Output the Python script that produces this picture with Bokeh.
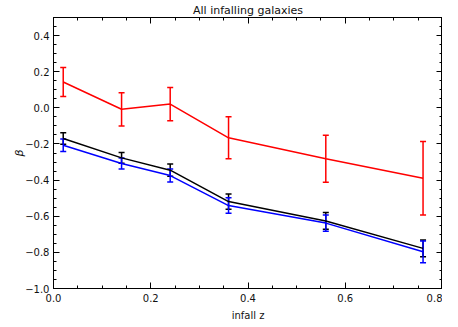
from bokeh.plotting import figure
from bokeh.models import (LinearAxis, Whisker, TeeHead, ColumnDataSource,
                          CustomJSTickFormatter, Range1d, FixedTicker,
                          CustomLabelingPolicy)
from bokeh.embed import file_html
from bokeh.resources import INLINE

# data
infall_z = [0.02, 0.14, 0.24, 0.36, 0.56, 0.76]
beta_red = [0.143, -0.008, 0.021, -0.166, -0.282, -0.390]
err_red = [0.080, 0.092, 0.092, 0.116, 0.130, 0.203]
beta_black = [-0.170, -0.277, -0.345, -0.519, -0.626, -0.778]
err_black = [0.032, 0.030, 0.034, 0.042, 0.046, 0.046]
beta_blue = [-0.207, -0.308, -0.375, -0.541, -0.638, -0.797]
err_blue = [0.035, 0.031, 0.036, 0.043, 0.045, 0.060]
x_ticks = [0.0, 0.2, 0.4, 0.6, 0.8]
x_minor = [0.05, 0.1, 0.15, 0.25, 0.3, 0.35, 0.45, 0.5, 0.55, 0.65, 0.7, 0.75]
y_ticks = [-1.0, -0.8, -0.6, -0.4, -0.2, 0.0, 0.2, 0.4]
y_minor = [-0.95, -0.9, -0.85, -0.75, -0.7, -0.65, -0.55, -0.5, -0.45,
           -0.35, -0.3, -0.25, -0.15, -0.1, -0.05, 0.05, 0.1, 0.15,
           0.25, 0.3, 0.35, 0.45, 0.5]
title_text = "All infalling galaxies"
x_label = "infall z"
y_label = "β"

FONT = "DejaVu Sans"

p = figure(width=442, height=323, output_backend="svg", toolbar_location=None,
           x_range=Range1d(0, 0.8), y_range=Range1d(-1.0, 0.5),
           x_axis_location=None, y_axis_location=None,
           min_border_left=53, min_border_right=0, min_border_top=0, min_border_bottom=0)
p.grid.visible = False
p.outline_line_color = "black"
p.background_fill_color = "white"
p.border_fill_color = "white"

p.title.text = title_text
p.title.align = "center"
p.title.text_font = FONT
p.title.text_font_size = "11px"
p.title.text_font_style = "normal"
p.title.text_color = "#111111"
p.title.standoff = 2
p.title.offset = 0

fmt = CustomJSTickFormatter(code="return tick.toFixed(1).replace('-', '\u2212');")
blank = CustomJSTickFormatter(code="return '';")
no_labels = CustomLabelingPolicy(code="return new Set();")

def make_axis(ticks, minor, labels):
    ax = LinearAxis(ticker=FixedTicker(ticks=ticks, minor_ticks=minor))
    ax.major_tick_in = 6
    ax.major_tick_out = 0
    ax.minor_tick_in = 3
    ax.minor_tick_out = 0
    ax.axis_line_color = "black"
    ax.major_tick_line_color = "black"
    ax.minor_tick_line_color = "black"
    ax.major_label_text_font = FONT
    ax.major_label_text_font_size = "10px"
    ax.major_label_text_color = "#111111"
    ax.major_label_standoff = 4
    ax.formatter = fmt
    if not labels:
        ax.formatter = blank
        ax.major_label_policy = no_labels
        ax.major_label_standoff = 0
    return ax

xb = make_axis(x_ticks, x_minor, True)
xt = make_axis(x_ticks, x_minor, False)
yl = make_axis(y_ticks, y_minor, True)
yr = make_axis(y_ticks, y_minor, False)
xb.major_label_standoff = 5

xb.axis_label = x_label
xb.axis_label_text_font = FONT
xb.axis_label_text_font_size = "10px"
xb.axis_label_text_font_style = "normal"
xb.axis_label_text_color = "#111111"
xb.axis_label_standoff = 5
yl.axis_label = y_label
yl.axis_label_text_font = FONT
yl.axis_label_text_font_size = "11px"
yl.axis_label_text_font_style = "italic"
yl.axis_label_text_color = "#111111"
yl.axis_label_standoff = -4

p.add_layout(xb, "below")
p.add_layout(xt, "above")
p.add_layout(yl, "left")
p.add_layout(yr, "right")

def series(vals, errs, color):
    src = ColumnDataSource(dict(x=infall_z, y=vals,
                                lo=[v - e for v, e in zip(vals, errs)],
                                hi=[v + e for v, e in zip(vals, errs)]))
    p.line("x", "y", source=src, line_color=color, line_width=1.5)
    w = Whisker(source=src, base="x", upper="hi", lower="lo",
                line_color=color, line_width=1.5,
                upper_head=TeeHead(size=6, line_color=color, line_width=1.5),
                lower_head=TeeHead(size=6, line_color=color, line_width=1.5))
    p.add_layout(w)

series(beta_red, err_red, "#ff0000")
series(beta_black, err_black, "#000000")
series(beta_blue, err_blue, "#0000ff")

open("out.html", "w").write(file_html(p, INLINE))
